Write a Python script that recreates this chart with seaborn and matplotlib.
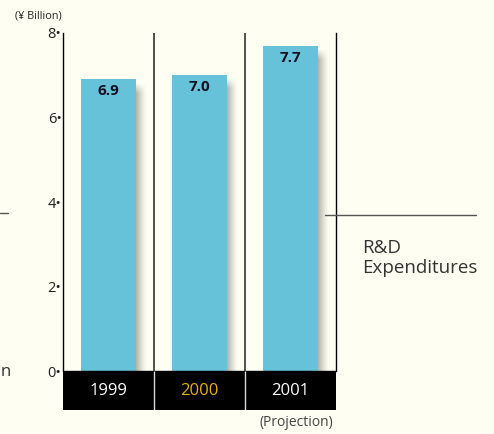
import matplotlib
matplotlib.use("Agg")
import matplotlib.pyplot as plt
import seaborn as sns
import pandas as pd
import numpy as np
from matplotlib.lines import Line2D

years = ["1999", "2000", "2001"]
values = [6.9, 7.0, 7.7]
value_labels = ["6.9", "7.0", "7.7"]
year_colors = ["white", "#E8B000", "white"]
yticks = [0, 2, 4, 6, 8]

BG = "#FEFEF2"
BAR = "#66C2D8"

sns.set_style("white")
plt.rcParams['font.family'] = ['Open Sans', 'DejaVu Sans']

fig = plt.figure(figsize=(4.94, 4.34), dpi=100, facecolor=BG)
ax = fig.add_axes([63/494, 1-410/434, 273/494, 377/434])
ax.set_facecolor(BG)

df = pd.DataFrame({"year": years, "value": values})
sns.barplot(data=df, x="year", y="value", color=BAR, saturation=1, width=0.6,
            linewidth=0, edgecolor=BAR, ax=ax, zorder=3)

ymin = -0.923
ax.set_ylim(ymin, 8)
ax.set_xlim(-0.5, 2.5)

# shadows (gradient images)
sw = 0.115
for i, v in enumerate(values):
    top = v - 0.06
    ny, nx = 200, 40
    xs = np.linspace(0, 1, nx)
    ys = np.linspace(0, 1, ny)  # 0 = top
    hx = (1 - xs) ** 1.3
    hy = np.clip(ys * (top / 0.25), 0, 1)  # fade in over top 0.25 units
    alpha = 0.55 * np.outer(hy, hx)
    img = np.zeros((ny, nx, 4))
    img[..., 0] = 0.45
    img[..., 1] = 0.45
    img[..., 2] = 0.42
    img[..., 3] = alpha
    ax.imshow(img, extent=(i + 0.3, i + 0.3 + sw, 0, top), aspect="auto",
              interpolation="bilinear", zorder=2)

ax.set_xlim(-0.5, 2.5)
ax.set_ylim(ymin, 8)

# black band
ax.axhspan(ymin, 0, color="black", zorder=4)
for x in [0.5, 1.5]:
    ax.vlines(x, 0, 8, color="#333333", lw=1.2, zorder=5)
    ax.vlines(x, ymin, 0, color="#d8d8d8", lw=1.0, zorder=5)

for i, (y, c) in enumerate(zip(years, year_colors)):
    ax.text(i, ymin / 2, y, color=c, ha="center", va="center", fontsize=12, zorder=6)

for i, (v, lab) in enumerate(zip(values, value_labels)):
    ax.text(i, v - 0.28, lab, ha="center", va="center", fontsize=11,
            fontweight="bold", color="#111122", zorder=6)

ax.set_xlabel("")
ax.set_ylabel("")
ax.set_xticks([])
ax.set_yticks(yticks)
ax.set_yticklabels([f"{t}\u2022" for t in yticks], fontsize=10.5, color="#222222")
ax.tick_params(axis="y", length=0, pad=1)

for s in ["top", "bottom"]:
    ax.spines[s].set_visible(False)
for s in ["left", "right"]:
    ax.spines[s].set_visible(True)
    ax.spines[s].set_bounds(0, 8)
    ax.spines[s].set_color("black")
    ax.spines[s].set_linewidth(1.0)
    ax.spines[s].set_zorder(5)

fig.text(15/494, 1-16/434, "(\u00a5 Billion)", fontsize=7.8, color="#222222", va="center", ha="left")
fig.text(333/494, 1-422/434, "(Projection)", fontsize=10, color="#444444", va="center", ha="right")
fig.text(362/494, 1-258/434, "R&D\nExpenditures", fontsize=13.5, color="#333333",
         va="center", ha="left", linespacing=1.1)
fig.text(0.5/494, 1-372/434, "n", fontsize=12, color="#333333", va="center", ha="left")

fig.add_artist(Line2D([325/494, 476/494], [1-215/434, 1-215/434], color="#555555", lw=1))
fig.add_artist(Line2D([0, 8/494], [1-213/434, 1-213/434], color="#555555", lw=1))

fig.savefig("out.png", dpi=100, facecolor=BG)
